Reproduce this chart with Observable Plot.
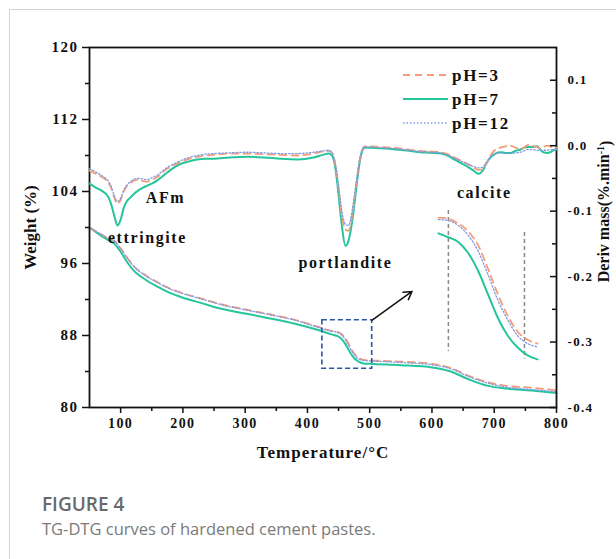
<!DOCTYPE html>
<html>
<head>
<meta charset="utf-8">
<script src="https://cdn.jsdelivr.net/npm/d3@7"></script>
<script src="https://cdn.jsdelivr.net/npm/@observablehq/plot@0.6"></script>
<style>
  body { margin: 0; background: #fff; }
  #page { position: relative; width: 616px; height: 559px; overflow: hidden; background: #fff; }
  #rule { position: absolute; left: 9px; top: 9px; right: 0; bottom: 0; border-left: 1px solid #d3d3d3; border-top: 1px solid #d3d3d3; }
  .layer { position: absolute; left: 0; top: 0; }
  .layer svg { overflow: visible; background: transparent; }
  g[aria-label="x-axis tick label"] text,
  g[aria-label="y-axis tick label"] text,
  text.spaced,
  #legend text { letter-spacing: 0.1em; }
  g[aria-label="y-axis label"] text { font-size: 17px; }
  g[aria-label="x-axis label"] text { font-size: 17px; letter-spacing: 0.06em; }
  #cap1 { position: absolute; left: 42px; top: 491px; font: 600 19px "Open Sans", sans-serif; color: #6a6a6a; }
  #cap2 { position: absolute; left: 42px; top: 517px; font: 400 16.5px "Open Sans", sans-serif; color: #7a7a7a; }
</style>
</head>
<body>
<div id="page">
  <div id="rule"></div>
  <div class="layer" id="tg"></div>
  <div class="layer" id="dtg"></div>
  <div class="layer" id="inset"></div>
  <div class="layer" id="legend"></div>
  <div id="cap1">FIGURE 4</div>
  <div id="cap2">TG-DTG curves of hardened cement pastes.</div>
</div>
<script>
// ---- TG (weight %) ----
const tgTemp = [50,60,70,80,90,100,110,120,140,160,180,200,230,260,300,340,380,420,440,445,450,455,460,465,470,475,480,485,490,500,550,600,630,660,690,720,760,800];
const tgPH3  = [100.0,99.6,99.2,98.8,98.5,97.7,96.7,95.8,94.7,93.9,93.2,92.7,92.1,91.5,90.9,90.35,89.75,88.9,88.5,88.47,88.35,88.15,87.8,87.2,86.55,86.0,85.6,85.4,85.3,85.25,85.1,84.85,84.4,83.5,82.8,82.4,82.2,81.9];
const tgPH7  = [100.0,99.5,99.0,98.6,98.2,97.3,96.2,95.3,94.2,93.4,92.7,92.2,91.6,91.0,90.45,89.9,89.3,88.55,88.1,88.0,87.88,87.6,87.15,86.55,85.95,85.5,85.2,85.0,84.9,84.85,84.7,84.45,84.0,83.1,82.4,82.1,81.9,81.6];
const tgPH12 = [100.0,99.6,99.2,98.8,98.5,97.65,96.65,95.75,94.65,93.85,93.15,92.65,92.05,91.45,90.85,90.3,89.7,88.85,88.45,88.42,88.3,88.05,87.65,87.05,86.4,85.9,85.5,85.3,85.22,85.18,85.0,84.75,84.3,83.4,82.7,82.25,82.0,81.75];

// ---- DTG (%/min) ----
const dtgTemp = [50,60,70,80,85,90,95,100,105,110,116,122,129,136,143,150,159,167,175,185,196,210,223,236,249,275,304,330,357,384,410,425,434,440,445,450,455,461,466,472,476,480,484,488,492,500,517,535,555,581,600,614,625,634,645,655,662,668,675,681,687,694,702,710,718,726,734,742,748,753,760,769,774,779,785,790,795,800];
const dtgPH3 = [-0.038,-0.043,-0.048,-0.056,-0.065,-0.080,-0.089,-0.083,-0.070,-0.062,
  -0.057,-0.053,-0.052,-0.054,-0.055,-0.052,-0.048,-0.041,-0.035,-0.030,
  -0.025,-0.020,-0.017,-0.015,-0.014,-0.012,-0.012,-0.013,-0.014,-0.015,
  -0.012,-0.009,-0.008,-0.012,-0.030,-0.065,-0.105,-0.128,-0.130,-0.105,
  -0.078,-0.048,-0.022,-0.006,-0.001,-0.001,-0.002,-0.003,-0.005,-0.008,
  -0.009,-0.010,-0.013,-0.017,-0.022,-0.027,-0.030,-0.034,-0.037,-0.036,
  -0.028,-0.015,-0.006,-0.003,-0.001,0.000,-0.003,-0.005,-0.003,0.001,
  0.000,-0.002,-0.004,-0.002,0.000,-0.001,-0.004,-0.003];
const dtgPH7 = [-0.058,-0.064,-0.069,-0.078,-0.090,-0.108,-0.122,-0.113,-0.095,-0.085,
  -0.079,-0.073,-0.068,-0.064,-0.061,-0.058,-0.053,-0.047,-0.041,-0.034,
  -0.028,-0.024,-0.021,-0.020,-0.020,-0.018,-0.017,-0.018,-0.020,-0.021,
  -0.018,-0.014,-0.012,-0.016,-0.035,-0.075,-0.120,-0.153,-0.145,-0.115,
  -0.085,-0.053,-0.025,-0.008,-0.003,-0.003,-0.004,-0.005,-0.007,-0.010,
  -0.011,-0.012,-0.015,-0.020,-0.026,-0.031,-0.035,-0.039,-0.043,-0.039,
  -0.028,-0.018,-0.012,-0.010,-0.011,-0.011,-0.008,-0.006,-0.003,-0.002,
  -0.002,-0.001,-0.006,-0.010,-0.011,-0.010,-0.007,-0.006];
const dtgPH12 = [-0.035,-0.040,-0.046,-0.054,-0.063,-0.077,-0.085,-0.080,-0.068,-0.060,
  -0.055,-0.051,-0.050,-0.051,-0.052,-0.049,-0.045,-0.039,-0.033,-0.028,
  -0.023,-0.018,-0.015,-0.013,-0.012,-0.011,-0.010,-0.011,-0.012,-0.012,
  -0.010,-0.008,-0.007,-0.011,-0.028,-0.060,-0.098,-0.120,-0.122,-0.098,
  -0.072,-0.044,-0.020,-0.006,-0.002,-0.002,-0.003,-0.004,-0.006,-0.009,
  -0.010,-0.011,-0.014,-0.018,-0.023,-0.027,-0.030,-0.032,-0.034,-0.033,
  -0.026,-0.017,-0.012,-0.011,-0.012,-0.012,-0.011,-0.010,-0.008,-0.006,
  -0.006,-0.007,-0.008,-0.007,-0.007,-0.006,-0.006,-0.005];

// ---- axes ----
const xTicks = [100,200,300,400,500,600,700,800];
const xMinor = [150,250,350,450,550,650,750];
const yTicks = [80,88,96,104,112,120];
const yMinor = [84,92,100,108,116];
const rTicks = [0.1,0,-0.1,-0.2,-0.3,-0.4];
const rMinor = [0.05,-0.05,-0.15,-0.25,-0.35];
// right-axis title: base text, superscript exponent, closing bracket
const rTitleParts = ["Deriv mass(%.min", "-1", ")"];

// ---- annotations ----
const peakLabels = [
  {t: 172, w: 103.3, text: "AFm"},
  {t: 143, w: 98.9, text: "ettringite"},
  {t: 461, w: 96.1, text: "portlandite"},
  {t: 684, w: 103.9, text: "calcite"}
];
const zoomBox = [{t1: 424, t2: 504, w1: 84.3, w2: 89.7}];
const zoomArrow = [{t1: 504, w1: 89.7, t2: 568, w2: 92.9}];
// inset window and its marker lines
const insetT = [439, 491.5];
const insetW = [84.82, 88.68];
const insetMarks = [{t: 445, w1: 88.68, w2: 85.1}, {t: 483.4, w1: 88.12, w2: 84.9}];

const series = [
  {name: "pH=3",  stroke: "#f69c7a", width: 1.8, dash: "7,5", tg: tgPH3, dtg: dtgPH3},
  {name: "pH=7",  stroke: "#25c59c", width: 2.0, dash: null, tg: tgPH7, dtg: dtgPH7},
  {name: "pH=12", stroke: "#7f9ce4", width: 1.3, dash: "1.5,2", tg: tgPH12, dtg: dtgPH12}
];
const drawOrder = [1, 0, 2];

const rows = (xs, ys) => xs.map((x, i) => ({t: x, v: ys[i]}));
const serif = "'Liberation Serif','Times New Roman',serif";
const W = 616, H = 470;
const frame = {width: W, height: H, marginLeft: 89, marginRight: 60, marginTop: 47, marginBottom: 63};

const lineMarks = (key, filter) => drawOrder.map(i => {
  const s = series[i];
  let data = rows(key === "tg" ? tgTemp : dtgTemp, s[key]);
  if (filter) data = data.filter(filter);
  return Plot.line(data, {x: "t", y: "v", stroke: s.stroke, strokeWidth: s.width,
    strokeDasharray: s.dash, curve: "monotone-x"});
});

// Weight (TG) layer with left and bottom axes
const tgPlot = Plot.plot({
  ...frame,
  style: {fontFamily: serif, fontWeight: "bold", fontSize: "14px", color: "#111", background: "transparent"},
  x: {domain: [50, 800]},
  y: {domain: [80, 120]},
  marks: [
    ...lineMarks("tg"),
    Plot.rect(zoomBox, {x1: "t1", x2: "t2", y1: "w1", y2: "w2", fill: "none", stroke: "#2a56a6", strokeWidth: 1.6, strokeDasharray: "5,3"}),
    Plot.arrow(zoomArrow, {x1: "t1", y1: "w1", x2: "t2", y2: "w2", stroke: "#111", strokeWidth: 1.5, headLength: 9}),
    Plot.text(peakLabels, {x: "t", y: "w", text: "text", fontSize: 16, fontWeight: "bold", fill: "#111"}),
    Plot.axisX(xMinor, {tickSize: 4, strokeWidth: 1.5, tickFormat: () => "", label: null}),
    Plot.axisX(xTicks, {tickSize: 6, tickPadding: 5, strokeWidth: 1.5, fontSize: 14,
      label: "Temperature/°C", labelAnchor: "center", labelOffset: 50, labelArrow: "none"}),
    Plot.axisY(yMinor, {tickSize: 4, strokeWidth: 1.5, tickFormat: () => "", label: null}),
    Plot.axisY(yTicks, {tickSize: 7, tickPadding: 4, strokeWidth: 1.5, fontSize: 15,
      label: "Weight (%)", labelAnchor: "center", labelOffset: 66, labelArrow: "none"}),
    Plot.frame({stroke: "#111", strokeWidth: 1.8})
  ]
});
// widen the peak names a little, as in the printed figure
const peakNames = new Set(peakLabels.map(d => d.text));
d3.select(tgPlot).selectAll("text").filter(function() { return peakNames.has(this.textContent); })
  .classed("spaced", true);
document.getElementById("tg").append(tgPlot);

// Derivative (DTG) layer with right axis, ticks pointing inward
const plotWidth = W - frame.marginLeft - frame.marginRight;
const rTitle = rTitleParts.join("");
const dtgPlot = Plot.plot({
  ...frame,
  style: {fontFamily: serif, fontWeight: "bold", fontSize: "13px", color: "#111", background: "transparent"},
  x: {domain: [50, 800], axis: null},
  y: {domain: [-0.4, 0.15]},
  marks: [
    ...lineMarks("dtg"),
    Plot.tickY(rTicks, {y: d => d, insetLeft: plotWidth - 6, stroke: "#111", strokeWidth: 1.5}),
    Plot.tickY(rMinor, {y: d => d, insetLeft: plotWidth - 4, stroke: "#111", strokeWidth: 1.5}),
    Plot.axisY(rTicks, {anchor: "right", tickSize: 0, tickPadding: 11, fontSize: 13,
      tickFormat: d => d.toFixed(1), label: null}),
    Plot.text([rTitle], {frameAnchor: "right", textAnchor: "middle", lineAnchor: "middle",
      dx: 47, dy: -16, rotate: -90, fontSize: 16, fontWeight: "bold", fill: "#111"})
  ]
});
// set the exponent of the unit as a raised, smaller run
d3.select(dtgPlot).selectAll("text").filter(function() { return this.textContent === rTitle; })
  .each(function() {
    const t = d3.select(this).style("font-family", serif).text(null);
    t.append("tspan").text(rTitleParts[0]);
    t.append("tspan").attr("dy", "-0.45em").attr("font-size", "10px").text(rTitleParts[1]);
    t.append("tspan").attr("dy", "0.45em").text(rTitleParts[2]);
  });
document.getElementById("dtg").append(dtgPlot);

// Magnified view of the portlandite weight step
const insetPlot = Plot.plot({
  width: 104, height: 152, margin: 0,
  style: {background: "transparent"},
  x: {domain: insetT, axis: null},
  y: {domain: insetW, axis: null},
  marks: [
    Plot.ruleX(insetMarks, {x: "t", y1: "w1", y2: "w2", stroke: "#8a8a8a", strokeWidth: 1.5, strokeDasharray: "4,3"}),
    ...lineMarks("tg", d => d.t >= 440 && d.t <= 490)
  ]
});
const insetDiv = document.getElementById("inset");
insetDiv.style.left = "436px";
insetDiv.style.top = "210px";
insetDiv.append(insetPlot);

// Legend
const leg = d3.select("#legend").append("svg").attr("width", W).attr("height", H)
  .style("position", "absolute").style("left", 0).style("top", 0);
series.forEach((s, i) => {
  const y = 75 + i * 24;
  leg.append("line").attr("x1", 403).attr("x2", 448).attr("y1", y).attr("y2", y)
    .attr("stroke", s.stroke).attr("stroke-width", s.width).attr("stroke-dasharray", s.dash);
  leg.append("text").attr("x", 452).attr("y", y).attr("dy", "0.35em")
    .attr("font-family", serif).attr("font-weight", "bold").attr("font-size", 17)
    .attr("fill", "#111").text(s.name);
});
</script>
</body>
</html>
